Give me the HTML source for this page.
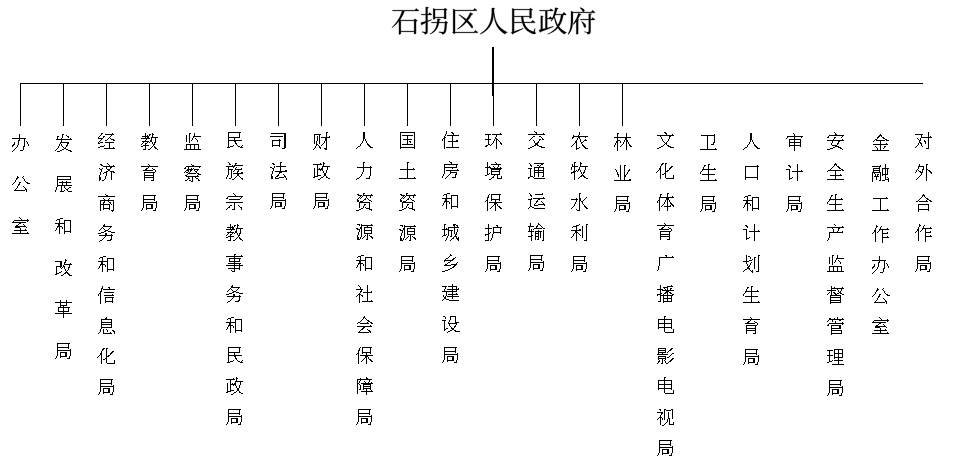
<!DOCTYPE html>
<html><head><meta charset="utf-8"><style>
html,body{margin:0;padding:0;background:#fff;}
body{width:966px;height:465px;overflow:hidden;font-family:"Liberation Serif",serif;}
svg{display:block;}
</style></head><body>
<svg width="966" height="465" viewBox="0 0 966 465">
<path shape-rendering="crispEdges" fill="#000" d="M492 47h2v36h-2zM20 83h903v1h-903zM20 84h1v42h-1zM63 84h1v42h-1zM106 84h1v42h-1zM149 84h1v42h-1zM192 84h1v42h-1zM235 84h1v42h-1zM278 84h1v42h-1zM321 84h1v42h-1zM364 84h1v42h-1zM407 84h1v42h-1zM450 84h1v42h-1zM492 84h2v12h-2zM536 84h1v42h-1zM579 84h1v42h-1zM622 84h1v42h-1zM493 96h1v30h-1zM446 131h1v3h-1zM534 131h1v1h-1zM228 132h13v1h-13zM326 132h2v1h-2zM363 132h2v7h-2zM400 132h15v1h-15zM451 132h2v1h-2zM535 132h2v1h-2zM579 132h1v3h-1zM664 132h2v1h-2zM834 132h1v1h-1zM928 132h1v5h-1zM101 133h2v1h-2zM112 133h1v1h-1zM145 133h1v3h-1zM152 133h1v1h-1zM189 133h2v1h-2zM194 133h1v3h-1zM228 133h1v4h-1zM239 133h1v4h-1zM271 133h15v1h-15zM326 133h1v4h-1zM400 133h1v14h-1zM414 133h1v14h-1zM452 133h2v1h-2zM500 133h1v1h-1zM536 133h1v1h-1zM543 133h1v1h-1zM617 133h2v1h-2zM626 133h1v4h-1zM665 133h2v1h-2zM750 133h2v7h-2zM793 133h1v1h-1zM835 133h1v1h-1zM19 134h1v4h-1zM62 134h2v1h-2zM101 134h1v1h-1zM105 134h9v1h-9zM149 134h2v1h-2zM152 134h2v1h-2zM189 134h1v9h-1zM284 134h2v14h-2zM314 134h7v1h-7zM445 134h1v2h-1zM453 134h1v1h-1zM485 134h6v1h-6zM492 134h10v1h-10zM528 134h17v1h-17zM617 134h1v3h-1zM666 134h1v1h-1zM672 134h1v1h-1zM714 134h1v1h-1zM794 134h1v2h-1zM835 134h2v1h-2zM880 134h1v1h-1zM915 134h8v1h-8zM62 135h1v3h-1zM66 135h1v1h-1zM100 135h1v1h-1zM111 135h1v1h-1zM147 135h1v1h-1zM149 135h1v1h-1zM152 135h1v2h-1zM186 135h1v7h-1zM314 135h1v9h-1zM319 135h1v9h-1zM402 135h11v1h-11zM447 135h12v1h-12zM488 135h1v4h-1zM496 135h1v2h-1zM573 135h1v1h-1zM578 135h1v1h-1zM657 135h17v1h-17zM701 135h14v1h-14zM829 135h15v1h-15zM879 135h3v1h-3zM921 135h1v2h-1zM57 136h2v1h-2zM67 136h2v1h-2zM99 136h1v1h-1zM103 136h2v1h-2zM110 136h1v1h-1zM142 136h7v1h-7zM193 136h8v1h-8zM270 136h13v1h-13zM317 136h1v5h-1zM329 136h1v1h-1zM407 136h1v3h-1zM444 136h1v1h-1zM452 136h1v5h-1zM533 136h2v1h-2zM539 136h2v1h-2zM573 136h15v1h-15zM660 136h1v1h-1zM669 136h2v1h-2zM707 136h1v13h-1zM714 136h1v6h-1zM787 136h16v1h-16zM828 136h1v1h-1zM842 136h1v1h-1zM878 136h2v1h-2zM881 136h1v1h-1zM930 136h1v1h-1zM57 137h1v2h-1zM68 137h1v1h-1zM98 137h1v1h-1zM103 137h1v1h-1zM109 137h1v1h-1zM145 137h1v1h-1zM147 137h2v1h-2zM151 137h7v1h-7zM193 137h1v1h-1zM228 137h12v1h-12zM321 137h9v1h-9zM444 137h2v1h-2zM495 137h1v1h-1zM532 137h1v1h-1zM541 137h1v1h-1zM572 137h2v1h-2zM578 137h2v1h-2zM585 137h1v1h-1zM614 137h17v1h-17zM661 137h1v2h-1zM669 137h1v2h-1zM787 137h1v1h-1zM794 137h1v2h-1zM801 137h1v1h-1zM827 137h2v1h-2zM834 137h2v1h-2zM841 137h1v1h-1zM877 137h2v1h-2zM882 137h2v1h-2zM921 137h11v1h-11zM12 138h14v1h-14zM61 138h1v1h-1zM70 138h1v1h-1zM98 138h5v1h-5zM108 138h1v1h-1zM110 138h1v1h-1zM141 138h9v1h-9zM151 138h1v2h-1zM155 138h1v4h-1zM192 138h1v2h-1zM195 138h1v1h-1zM228 138h1v2h-1zM234 138h1v2h-1zM325 138h2v3h-2zM443 138h2v1h-2zM495 138h2v1h-2zM531 138h1v1h-1zM542 138h1v1h-1zM572 138h1v1h-1zM577 138h1v2h-1zM579 138h1v1h-1zM617 138h1v2h-1zM625 138h2v2h-2zM786 138h1v1h-1zM834 138h1v1h-1zM877 138h1v1h-1zM883 138h2v1h-2zM917 138h1v1h-1zM920 138h1v2h-1zM928 138h1v10h-1zM19 139h1v1h-1zM24 139h1v7h-1zM56 139h16v1h-16zM101 139h1v1h-1zM107 139h1v1h-1zM111 139h3v1h-3zM146 139h1v1h-1zM196 139h1v1h-1zM279 139h1v1h-1zM363 139h1v2h-1zM365 139h1v2h-1zM403 139h9v1h-9zM442 139h1v2h-1zM444 139h1v10h-1zM485 139h6v1h-6zM494 139h1v2h-1zM496 139h2v1h-2zM530 139h1v1h-1zM539 139h2v1h-2zM542 139h2v1h-2zM580 139h1v3h-1zM585 139h1v1h-1zM662 139h1v2h-1zM668 139h1v2h-1zM789 139h12v1h-12zM833 139h1v1h-1zM842 139h1v1h-1zM875 139h2v1h-2zM885 139h2v1h-2zM918 139h1v1h-1zM18 140h2v1h-2zM61 140h1v2h-1zM100 140h1v1h-1zM105 140h2v1h-2zM113 140h2v1h-2zM145 140h1v1h-1zM150 140h2v2h-2zM191 140h1v1h-1zM197 140h1v2h-1zM228 140h14v1h-14zM272 140h9v1h-9zM407 140h1v4h-1zM456 140h2v1h-2zM488 140h1v4h-1zM496 140h1v9h-1zM498 140h1v1h-1zM529 140h1v1h-1zM533 140h1v1h-1zM539 140h1v1h-1zM576 140h1v1h-1zM584 140h3v1h-3zM617 140h3v1h-3zM624 140h1v2h-1zM626 140h2v2h-2zM750 140h1v2h-1zM752 140h1v2h-1zM789 140h1v2h-1zM794 140h1v2h-1zM800 140h1v2h-1zM827 140h17v1h-17zM874 140h1v1h-1zM876 140h9v1h-9zM886 140h3v1h-3zM919 140h2v1h-2zM924 140h1v1h-1zM18 141h1v4h-1zM26 141h1v1h-1zM99 141h1v1h-1zM142 141h7v1h-7zM228 141h1v6h-1zM234 141h2v1h-2zM272 141h1v4h-1zM279 141h1v4h-1zM316 141h1v3h-1zM324 141h1v2h-1zM326 141h1v7h-1zM362 141h1v2h-1zM366 141h1v2h-1zM409 141h2v1h-2zM448 141h10v1h-10zM493 141h1v2h-1zM499 141h1v1h-1zM534 141h1v2h-1zM538 141h1v1h-1zM575 141h2v2h-2zM583 141h1v1h-1zM616 141h2v2h-2zM620 141h1v2h-1zM663 141h1v1h-1zM667 141h1v1h-1zM832 141h1v2h-1zM838 141h2v1h-2zM873 141h1v1h-1zM880 141h1v3h-1zM919 141h1v1h-1zM924 141h2v1h-2zM14 142h1v2h-1zM27 142h1v2h-1zM60 142h9v1h-9zM98 142h1v1h-1zM100 142h3v1h-3zM105 142h9v1h-9zM143 142h1v1h-1zM147 142h1v1h-1zM149 142h1v1h-1zM152 142h1v2h-1zM154 142h2v1h-2zM235 142h1v1h-1zM410 142h1v1h-1zM452 142h1v5h-1zM500 142h1v1h-1zM537 142h2v1h-2zM581 142h2v1h-2zM623 142h1v2h-1zM626 142h1v8h-1zM628 142h1v2h-1zM664 142h1v1h-1zM666 142h1v1h-1zM713 142h2v1h-2zM749 142h1v2h-1zM753 142h1v2h-1zM789 142h12v1h-12zM838 142h1v1h-1zM919 142h2v1h-2zM925 142h1v2h-1zM60 143h1v1h-1zM67 143h2v1h-2zM98 143h2v1h-2zM109 143h1v5h-1zM142 143h1v1h-1zM145 143h2v1h-2zM154 143h1v1h-1zM235 143h2v1h-2zM323 143h1v1h-1zM361 143h1v1h-1zM367 143h1v1h-1zM492 143h1v1h-1zM500 143h2v1h-2zM535 143h3v2h-3zM574 143h1v1h-1zM576 143h1v5h-1zM581 143h1v1h-1zM615 143h1v2h-1zM617 143h1v8h-1zM665 143h2v1h-2zM713 143h1v1h-1zM789 143h1v2h-1zM794 143h1v2h-1zM800 143h1v2h-1zM831 143h1v2h-1zM837 143h2v1h-2zM886 143h1v1h-1zM918 143h1v2h-1zM920 143h2v1h-2zM13 144h2v1h-2zM28 144h1v2h-1zM59 144h1v2h-1zM61 144h1v2h-1zM67 144h1v1h-1zM141 144h1v1h-1zM145 144h1v1h-1zM153 144h2v1h-2zM186 144h13v1h-13zM236 144h1v1h-1zM316 144h2v1h-2zM322 144h1v1h-1zM360 144h1v2h-1zM367 144h2v1h-2zM402 144h11v1h-11zM488 144h2v1h-2zM491 144h1v1h-1zM501 144h1v1h-1zM573 144h1v1h-1zM582 144h1v1h-1zM622 144h1v1h-1zM629 144h1v1h-1zM664 144h1v1h-1zM666 144h1v1h-1zM711 144h3v1h-3zM748 144h1v1h-1zM754 144h1v1h-1zM837 144h1v1h-1zM873 144h15v1h-15zM921 144h1v2h-1zM12 145h2v1h-2zM17 145h1v2h-1zM66 145h2v1h-2zM104 145h1v1h-1zM143 145h6v1h-6zM153 145h1v1h-1zM186 145h1v4h-1zM190 145h1v4h-1zM194 145h1v4h-1zM198 145h1v4h-1zM233 145h1v1h-1zM237 145h1v1h-1zM242 145h1v1h-1zM272 145h8v1h-8zM316 145h1v1h-1zM318 145h1v1h-1zM321 145h1v1h-1zM368 145h2v1h-2zM486 145h2v1h-2zM490 145h1v1h-1zM534 145h2v1h-2zM537 145h2v1h-2zM572 145h1v1h-1zM582 145h2v1h-2zM614 145h1v2h-1zM621 145h1v1h-1zM629 145h2v1h-2zM663 145h1v1h-1zM667 145h2v1h-2zM747 145h1v2h-1zM754 145h2v1h-2zM789 145h12v1h-12zM832 145h5v1h-5zM880 145h1v5h-1zM917 145h1v1h-1zM12 146h1v1h-1zM23 146h2v1h-2zM58 146h1v2h-1zM62 146h1v1h-1zM66 146h1v1h-1zM100 146h4v1h-4zM141 146h2v1h-2zM145 146h1v3h-1zM152 146h1v1h-1zM154 146h1v1h-1zM230 146h3v1h-3zM238 146h2v1h-2zM241 146h1v1h-1zM272 146h1v1h-1zM279 146h1v1h-1zM315 146h1v2h-1zM319 146h1v1h-1zM358 146h2v1h-2zM369 146h2v1h-2zM485 146h2v1h-2zM532 146h2v1h-2zM539 146h3v1h-3zM571 146h1v1h-1zM583 146h2v1h-2zM620 146h1v1h-1zM630 146h2v1h-2zM661 146h2v1h-2zM668 146h3v1h-3zM755 146h2v1h-2zM789 146h1v1h-1zM794 146h1v5h-1zM800 146h1v1h-1zM835 146h4v1h-4zM875 146h1v1h-1zM884 146h2v1h-2zM916 146h1v1h-1zM922 146h1v1h-1zM16 147h1v1h-1zM23 147h1v3h-1zM63 147h1v1h-1zM65 147h1v1h-1zM98 147h2v1h-2zM113 147h1v1h-1zM151 147h1v1h-1zM154 147h2v1h-2zM227 147h3v1h-3zM240 147h3v1h-3zM319 147h2v1h-2zM357 147h1v1h-1zM370 147h3v1h-3zM400 147h15v1h-15zM446 147h13v1h-13zM530 147h2v1h-2zM541 147h4v1h-4zM579 147h1v1h-1zM584 147h2v1h-2zM659 147h2v1h-2zM670 147h4v1h-4zM745 147h2v1h-2zM756 147h2v1h-2zM833 147h2v1h-2zM838 147h3v1h-3zM876 147h1v1h-1zM884 147h1v1h-1zM915 147h1v1h-1zM15 148h1v1h-1zM57 148h1v1h-1zM64 148h2v1h-2zM104 148h11v1h-11zM150 148h1v1h-1zM155 148h2v1h-2zM282 148h3v1h-3zM314 148h1v1h-1zM320 148h1v1h-1zM324 148h3v1h-3zM356 148h1v1h-1zM400 148h1v1h-1zM414 148h1v1h-1zM528 148h2v1h-2zM576 148h3v1h-3zM585 148h3v1h-3zM657 148h2v1h-2zM715 148h1v1h-1zM744 148h1v1h-1zM757 148h3v1h-3zM830 148h3v1h-3zM840 148h2v1h-2zM877 148h1v2h-1zM883 148h1v1h-1zM926 148h3v1h-3zM14 149h1v1h-1zM56 149h1v1h-1zM62 149h2v1h-2zM66 149h2v1h-2zM143 149h3v1h-3zM148 149h2v1h-2zM157 149h1v1h-1zM184 149h17v1h-17zM313 149h1v1h-1zM325 149h2v1h-2zM576 149h1v1h-1zM700 149h17v1h-17zM743 149h1v1h-1zM827 149h3v1h-3zM842 149h1v1h-1zM13 150h1v1h-1zM20 150h3v1h-3zM55 150h1v1h-1zM60 150h2v1h-2zM68 150h3v1h-3zM872 150h17v1h-17zM12 151h1v1h-1zM57 151h3v1h-3zM70 151h2v1h-2zM449 161h1v1h-1zM228 162h1v1h-1zM280 162h2v1h-2zM323 162h1v1h-1zM363 162h2v1h-2zM407 162h2v1h-2zM450 162h2v1h-2zM487 162h1v5h-1zM495 162h1v1h-1zM574 162h2v1h-2zM580 162h1v1h-1zM107 163h1v1h-1zM229 163h1v1h-1zM235 163h2v1h-2zM272 163h2v1h-2zM280 163h1v3h-1zM320 163h1v1h-1zM323 163h2v1h-2zM363 163h1v4h-1zM407 163h1v6h-1zM451 163h1v1h-1zM496 163h1v1h-1zM529 163h1v1h-1zM534 163h10v1h-10zM574 163h1v3h-1zM580 163h2v1h-2zM662 163h2v1h-2zM665 163h2v1h-2zM835 163h1v1h-1zM100 164h2v1h-2zM108 164h1v1h-1zM148 164h1v1h-1zM191 164h1v1h-1zM229 164h2v1h-2zM235 164h1v1h-1zM273 164h2v1h-2zM313 164h9v1h-9zM323 164h1v2h-1zM444 164h14v1h-14zM491 164h10v1h-10zM530 164h1v1h-1zM541 164h2v1h-2zM572 164h1v2h-1zM580 164h1v2h-1zM661 164h2v1h-2zM665 164h1v7h-1zM708 164h2v1h-2zM797 164h1v7h-1zM834 164h3v1h-3zM885 164h1v4h-1zM919 164h1v2h-1zM926 164h2v1h-2zM101 165h2v1h-2zM109 165h1v1h-1zM113 165h1v1h-1zM149 165h1v1h-1zM192 165h2v1h-2zM232 165h1v1h-1zM234 165h9v1h-9zM317 165h1v4h-1zM444 165h1v2h-1zM456 165h1v2h-1zM498 165h1v2h-1zM530 165h2v1h-2zM537 165h2v1h-2zM540 165h1v1h-1zM620 165h1v15h-1zM624 165h2v1h-2zM661 165h1v1h-1zM704 165h2v1h-2zM708 165h1v4h-1zM757 165h1v1h-1zM788 165h2v1h-2zM834 165h1v1h-1zM836 165h1v1h-1zM880 165h1v1h-1zM926 165h1v4h-1zM103 166h12v1h-12zM141 166h17v1h-17zM186 166h15v1h-15zM226 166h9v1h-9zM274 166h1v2h-1zM276 166h10v1h-10zM322 166h8v1h-8zM370 166h1v1h-1zM489 166h1v1h-1zM493 166h1v1h-1zM531 166h1v1h-1zM539 166h1v1h-1zM572 166h6v1h-6zM580 166h8v1h-8zM624 166h1v9h-1zM660 166h1v2h-1zM671 166h2v1h-2zM704 166h1v1h-1zM745 166h14v1h-14zM789 166h2v1h-2zM833 166h1v1h-1zM837 166h2v1h-2zM872 166h9v1h-9zM918 166h6v1h-6zM106 167h1v2h-1zM110 167h2v1h-2zM148 167h1v1h-1zM185 167h1v1h-1zM188 167h1v2h-1zM199 167h1v1h-1zM228 167h1v2h-1zM233 167h1v1h-1zM236 167h1v1h-1zM270 167h2v1h-2zM280 167h1v4h-1zM322 167h1v1h-1zM327 167h1v3h-1zM357 167h15v1h-15zM444 167h13v1h-13zM485 167h6v1h-6zM494 167h1v1h-1zM497 167h1v1h-1zM500 167h1v1h-1zM534 167h10v1h-10zM571 167h1v3h-1zM574 167h1v4h-1zM579 167h1v2h-1zM585 167h1v3h-1zM670 167h2v1h-2zM703 167h1v2h-1zM745 167h1v10h-1zM757 167h1v10h-1zM790 167h1v1h-1zM832 167h1v1h-1zM838 167h2v1h-2zM879 167h1v1h-1zM918 167h1v2h-1zM923 167h1v2h-1zM99 168h1v1h-1zM102 168h1v1h-1zM110 168h1v1h-1zM146 168h2v1h-2zM152 168h1v1h-1zM184 168h2v1h-2zM191 168h1v1h-1zM193 168h1v1h-1zM235 168h1v1h-1zM241 168h1v1h-1zM272 168h2v1h-2zM314 168h1v8h-1zM319 168h1v1h-1zM321 168h2v1h-2zM363 168h1v4h-1zM370 168h1v8h-1zM413 168h1v1h-1zM444 168h1v6h-1zM452 168h1v1h-1zM487 168h1v6h-1zM490 168h12v1h-12zM528 168h4v1h-4zM534 168h1v2h-1zM538 168h1v2h-1zM543 168h1v2h-1zM659 168h2v2h-2zM669 168h2v1h-2zM714 168h1v1h-1zM831 168h1v1h-1zM839 168h2v1h-2zM873 168h7v1h-7zM882 168h7v1h-7zM100 169h2v1h-2zM107 169h3v1h-3zM145 169h2v1h-2zM153 169h2v1h-2zM187 169h6v1h-6zM194 169h5v1h-5zM228 169h5v1h-5zM235 169h7v1h-7zM273 169h1v2h-1zM317 169h6v1h-6zM400 169h15v1h-15zM457 169h1v1h-1zM491 169h10v1h-10zM530 169h1v7h-1zM578 169h2v1h-2zM615 169h1v1h-1zM629 169h1v1h-1zM669 169h1v1h-1zM702 169h14v1h-14zM786 169h4v1h-4zM830 169h1v1h-1zM841 169h2v1h-2zM873 169h1v1h-1zM879 169h1v1h-1zM882 169h1v5h-1zM885 169h1v5h-1zM887 169h1v5h-1zM917 169h1v1h-1zM922 169h2v1h-2zM926 169h2v1h-2zM101 170h1v2h-1zM108 170h2v1h-2zM143 170h10v1h-10zM155 170h1v2h-1zM186 170h3v1h-3zM190 170h2v1h-2zM194 170h1v1h-1zM197 170h1v1h-1zM228 170h1v5h-1zM231 170h1v8h-1zM234 170h1v1h-1zM238 170h1v1h-1zM285 170h2v1h-2zM317 170h1v5h-1zM320 170h1v1h-1zM322 170h1v1h-1zM326 170h1v3h-1zM407 170h1v8h-1zM446 170h13v1h-13zM491 170h1v1h-1zM499 170h1v1h-1zM534 170h10v1h-10zM576 170h1v1h-1zM578 170h1v1h-1zM580 170h1v2h-1zM584 170h1v2h-1zM616 170h1v2h-1zM628 170h2v1h-2zM658 170h1v1h-1zM660 170h1v9h-1zM667 170h2v1h-2zM702 170h1v1h-1zM708 170h1v4h-1zM789 170h1v8h-1zM801 170h1v1h-1zM828 170h13v1h-13zM842 170h2v1h-2zM873 170h7v1h-7zM916 170h1v2h-1zM918 170h1v1h-1zM922 170h1v2h-1zM926 170h1v11h-1zM928 170h2v1h-2zM106 171h2v1h-2zM110 171h4v1h-4zM185 171h1v1h-1zM188 171h1v1h-1zM190 171h1v1h-1zM195 171h2v1h-2zM233 171h1v1h-1zM237 171h2v1h-2zM272 171h1v3h-1zM275 171h12v1h-12zM323 171h1v2h-1zM450 171h1v1h-1zM491 171h9v1h-9zM534 171h1v1h-1zM538 171h1v1h-1zM543 171h1v1h-1zM573 171h3v1h-3zM577 171h1v1h-1zM628 171h1v1h-1zM657 171h1v1h-1zM665 171h3v1h-3zM701 171h1v1h-1zM792 171h11v1h-11zM827 171h1v1h-1zM835 171h1v4h-1zM873 171h1v1h-1zM879 171h1v1h-1zM919 171h2v1h-2zM929 171h2v1h-2zM100 172h1v3h-1zM104 172h3v1h-3zM111 172h1v8h-1zM113 172h2v1h-2zM144 172h11v1h-11zM184 172h1v1h-1zM186 172h2v1h-2zM189 172h1v1h-1zM196 172h1v1h-1zM237 172h1v1h-1zM241 172h2v1h-2zM279 172h3v1h-3zM362 172h1v2h-1zM450 172h7v1h-7zM491 172h1v2h-1zM499 172h1v2h-1zM534 172h10v1h-10zM571 172h4v1h-4zM581 172h1v2h-1zM583 172h2v1h-2zM617 172h1v2h-1zM627 172h1v2h-1zM656 172h1v1h-1zM665 172h1v1h-1zM700 172h1v2h-1zM797 172h1v9h-1zM872 172h9v1h-9zM915 172h1v1h-1zM920 172h3v1h-3zM930 172h2v1h-2zM103 173h1v1h-1zM106 173h1v3h-1zM144 173h1v2h-1zM153 173h1v2h-1zM188 173h8v1h-8zM197 173h2v1h-2zM233 173h10v1h-10zM279 173h1v1h-1zM324 173h2v3h-2zM450 173h1v1h-1zM456 173h1v1h-1zM489 173h1v1h-1zM534 173h1v4h-1zM538 173h1v4h-1zM543 173h1v3h-1zM571 173h1v1h-1zM574 173h1v7h-1zM583 173h1v1h-1zM664 173h2v1h-2zM872 173h1v9h-1zM874 173h1v1h-1zM880 173h1v7h-1zM921 173h1v2h-1zM931 173h1v1h-1zM187 174h1v1h-1zM198 174h3v1h-3zM237 174h2v2h-2zM271 174h1v2h-1zM278 174h1v1h-1zM283 174h1v1h-1zM361 174h1v2h-1zM443 174h1v2h-1zM449 174h1v1h-1zM455 174h2v1h-2zM487 174h2v1h-2zM491 174h9v1h-9zM582 174h1v1h-1zM617 174h2v1h-2zM626 174h1v1h-1zM662 174h2v1h-2zM665 174h1v4h-1zM702 174h13v1h-13zM840 174h1v1h-1zM875 174h1v2h-1zM877 174h2v1h-2zM882 174h6v1h-6zM99 175h1v2h-1zM144 175h10v1h-10zM185 175h2v1h-2zM197 175h1v1h-1zM227 175h1v2h-1zM277 175h2v1h-2zM284 175h1v1h-1zM317 175h4v1h-4zM448 175h1v1h-1zM455 175h1v2h-1zM485 175h2v1h-2zM494 175h1v1h-1zM497 175h1v3h-1zM581 175h3v1h-3zM618 175h1v2h-1zM624 175h2v2h-2zM673 175h1v3h-1zM708 175h1v5h-1zM830 175h12v1h-12zM877 175h1v1h-1zM882 175h1v1h-1zM885 175h1v4h-1zM920 175h1v1h-1zM17 176h1v1h-1zM23 176h1v1h-1zM57 176h14v1h-14zM105 176h1v3h-1zM144 176h1v1h-1zM153 176h1v1h-1zM186 176h13v1h-13zM236 176h1v1h-1zM239 176h1v1h-1zM271 176h2v3h-2zM276 176h2v1h-2zM284 176h2v1h-2zM314 176h4v1h-4zM323 176h1v1h-1zM326 176h1v1h-1zM360 176h1v1h-1zM369 176h1v2h-1zM442 176h1v2h-1zM447 176h1v1h-1zM493 176h1v1h-1zM501 176h1v2h-1zM530 176h3v1h-3zM542 176h2v1h-2zM580 176h2v1h-2zM583 176h2v1h-2zM835 176h1v3h-1zM874 176h5v1h-5zM919 176h1v1h-1zM17 177h2v1h-2zM22 177h1v1h-1zM57 177h1v2h-1zM70 177h1v2h-1zM99 177h2v3h-2zM144 177h10v1h-10zM188 177h1v1h-1zM192 177h1v4h-1zM195 177h1v1h-1zM226 177h1v2h-1zM235 177h1v1h-1zM240 177h1v1h-1zM275 177h1v1h-1zM279 177h5v1h-5zM285 177h1v1h-1zM313 177h2v1h-2zM321 177h2v1h-2zM326 177h2v1h-2zM359 177h1v1h-1zM414 177h1v1h-1zM446 177h1v1h-1zM452 177h4v1h-4zM492 177h2v1h-2zM528 177h2v1h-2zM533 177h1v1h-1zM579 177h1v1h-1zM584 177h2v1h-2zM624 177h1v3h-1zM745 177h13v1h-13zM792 177h1v1h-1zM876 177h1v3h-1zM887 177h1v1h-1zM918 177h1v1h-1zM16 178h2v1h-2zM23 178h1v1h-1zM144 178h1v3h-1zM153 178h1v2h-1zM188 178h2v1h-2zM196 178h2v1h-2zM229 178h2v1h-2zM234 178h1v1h-1zM241 178h2v1h-2zM275 178h4v1h-4zM286 178h1v2h-1zM320 178h1v1h-1zM328 178h2v1h-2zM357 178h2v1h-2zM366 178h4v1h-4zM399 178h17v1h-17zM445 178h1v1h-1zM491 178h1v1h-1zM497 178h5v1h-5zM528 178h1v1h-1zM534 178h11v1h-11zM578 178h1v1h-1zM586 178h2v1h-2zM666 178h8v1h-8zM745 178h1v2h-1zM757 178h1v2h-1zM789 178h3v1h-3zM888 178h1v1h-1zM917 178h1v1h-1zM16 179h1v1h-1zM24 179h1v2h-1zM57 179h14v1h-14zM104 179h1v1h-1zM187 179h1v1h-1zM198 179h1v1h-1zM232 179h2v1h-2zM242 179h1v1h-1zM318 179h2v1h-2zM356 179h1v1h-1zM489 179h2v1h-2zM629 179h2v1h-2zM715 179h1v1h-1zM789 179h1v1h-1zM827 179h17v1h-17zM885 179h4v1h-4zM916 179h1v1h-1zM15 180h1v2h-1zM57 180h1v5h-1zM99 180h1v1h-1zM102 180h2v1h-2zM151 180h3v1h-3zM185 180h2v1h-2zM189 180h2v1h-2zM198 180h2v1h-2zM614 180h17v1h-17zM700 180h17v1h-17zM879 180h2v1h-2zM882 180h3v1h-3zM888 180h1v2h-1zM25 181h1v1h-1zM62 181h1v1h-1zM66 181h1v1h-1zM191 181h2v1h-2zM14 182h1v1h-1zM19 182h2v1h-2zM26 182h2v1h-2zM59 182h12v1h-12zM13 183h1v1h-1zM19 183h1v1h-1zM27 183h3v1h-3zM62 183h1v2h-1zM66 183h1v2h-1zM12 184h1v1h-1zM18 184h2v1h-2zM18 185h1v1h-1zM57 185h15v1h-15zM17 186h1v2h-1zM23 186h1v1h-1zM57 186h1v1h-1zM61 186h1v5h-1zM64 186h1v2h-1zM24 187h1v1h-1zM56 187h1v3h-1zM69 187h2v1h-2zM16 188h1v1h-1zM25 188h1v1h-1zM65 188h1v1h-1zM68 188h1v1h-1zM15 189h1v1h-1zM25 189h2v1h-2zM66 189h2v1h-2zM14 190h11v1h-11zM26 190h1v2h-1zM55 190h1v2h-1zM64 190h1v1h-1zM67 190h1v1h-1zM60 191h4v1h-4zM68 191h4v1h-4zM233 193h1v1h-1zM272 193h13v1h-13zM315 193h13v1h-13zM363 193h2v1h-2zM406 193h2v1h-2zM447 193h3v1h-3zM529 193h1v1h-1zM542 193h1v1h-1zM579 193h2v1h-2zM667 193h2v1h-2zM105 194h1v1h-1zM234 194h1v1h-1zM272 194h1v3h-1zM283 194h1v3h-1zM315 194h1v3h-1zM326 194h1v3h-1zM357 194h2v1h-2zM363 194h1v1h-1zM371 194h1v1h-1zM400 194h2v1h-2zM406 194h1v1h-1zM414 194h1v1h-1zM444 194h3v1h-3zM489 194h1v1h-1zM491 194h10v1h-10zM530 194h1v1h-1zM535 194h8v1h-8zM579 194h1v4h-1zM660 194h2v1h-2zM667 194h1v3h-1zM835 194h2v1h-2zM923 194h1v1h-1zM106 195h2v1h-2zM143 195h13v1h-13zM186 195h13v1h-13zM235 195h1v1h-1zM358 195h4v1h-4zM363 195h10v1h-10zM401 195h4v1h-4zM406 195h10v1h-10zM443 195h1v1h-1zM446 195h1v3h-1zM451 195h7v1h-7zM488 195h1v2h-1zM491 195h1v4h-1zM499 195h1v4h-1zM530 195h2v1h-2zM660 195h1v2h-1zM748 195h3v1h-3zM831 195h2v1h-2zM835 195h1v4h-1zM922 195h3v1h-3zM98 196h17v1h-17zM143 196h1v3h-1zM154 196h1v3h-1zM186 196h1v3h-1zM197 196h1v3h-1zM228 196h15v1h-15zM360 196h1v1h-1zM362 196h1v1h-1zM366 196h1v2h-1zM370 196h1v2h-1zM403 196h1v1h-1zM405 196h1v1h-1zM409 196h1v2h-1zM413 196h1v2h-1zM451 196h1v2h-1zM457 196h1v10h-1zM531 196h1v1h-1zM616 196h13v1h-13zM672 196h1v1h-1zM702 196h13v1h-13zM745 196h3v1h-3zM788 196h13v1h-13zM831 196h1v1h-1zM922 196h1v1h-1zM924 196h1v1h-1zM227 197h1v1h-1zM241 197h1v1h-1zM272 197h12v1h-12zM315 197h12v1h-12zM359 197h1v1h-1zM361 197h1v1h-1zM402 197h1v1h-1zM404 197h1v1h-1zM487 197h2v1h-2zM543 197h1v1h-1zM586 197h1v1h-1zM616 197h1v3h-1zM627 197h1v3h-1zM659 197h15v1h-15zM702 197h1v3h-1zM713 197h1v3h-1zM744 197h1v1h-1zM747 197h1v3h-1zM752 197h7v1h-7zM788 197h1v3h-1zM799 197h1v3h-1zM830 197h1v2h-1zM886 197h1v1h-1zM921 197h1v1h-1zM925 197h1v1h-1zM103 198h1v1h-1zM109 198h1v1h-1zM226 198h2v1h-2zM240 198h1v1h-1zM272 198h1v2h-1zM283 198h1v1h-1zM315 198h1v2h-1zM326 198h1v1h-1zM358 198h1v1h-1zM360 198h1v1h-1zM365 198h1v1h-1zM367 198h1v1h-1zM401 198h1v1h-1zM403 198h1v1h-1zM408 198h1v1h-1zM410 198h1v1h-1zM442 198h10v1h-10zM487 198h1v2h-1zM531 198h1v1h-1zM533 198h12v1h-12zM576 198h1v1h-1zM579 198h2v3h-2zM585 198h1v1h-1zM659 198h1v2h-1zM666 198h3v2h-3zM752 198h1v2h-1zM758 198h1v10h-1zM841 198h1v1h-1zM873 198h15v1h-15zM920 198h1v1h-1zM926 198h2v1h-2zM104 199h1v1h-1zM108 199h1v1h-1zM143 199h12v1h-12zM186 199h12v1h-12zM229 199h11v1h-11zM285 199h1v1h-1zM328 199h1v1h-1zM357 199h1v1h-1zM364 199h2v1h-2zM368 199h1v1h-1zM400 199h1v1h-1zM407 199h2v1h-2zM411 199h1v1h-1zM445 199h2v2h-2zM451 199h1v7h-1zM491 199h9v1h-9zM528 199h4v1h-4zM538 199h2v1h-2zM571 199h7v1h-7zM584 199h1v1h-1zM829 199h14v1h-14zM880 199h1v11h-1zM919 199h1v1h-1zM927 199h2v1h-2zM100 200h14v1h-14zM143 200h1v2h-1zM154 200h1v1h-1zM186 200h1v2h-1zM197 200h1v1h-1zM272 200h14v1h-14zM315 200h14v1h-14zM357 200h2v2h-2zM363 200h1v1h-1zM369 200h2v1h-2zM400 200h2v2h-2zM406 200h1v1h-1zM412 200h2v1h-2zM486 200h2v1h-2zM491 200h1v1h-1zM495 200h1v2h-1zM499 200h1v1h-1zM530 200h1v6h-1zM537 200h1v1h-1zM576 200h1v2h-1zM583 200h1v1h-1zM616 200h12v1h-12zM658 200h2v1h-2zM665 200h1v2h-1zM667 200h1v6h-1zM669 200h1v2h-1zM702 200h12v1h-12zM743 200h10v1h-10zM788 200h12v1h-12zM829 200h1v1h-1zM835 200h1v4h-1zM918 200h1v1h-1zM926 200h1v1h-1zM929 200h2v1h-2zM100 201h1v3h-1zM104 201h1v1h-1zM108 201h1v1h-1zM113 201h1v9h-1zM156 201h1v1h-1zM199 201h1v1h-1zM272 201h1v5h-1zM285 201h1v5h-1zM315 201h1v5h-1zM328 201h1v5h-1zM360 201h3v1h-3zM371 201h1v1h-1zM403 201h3v1h-3zM414 201h1v1h-1zM444 201h5v1h-5zM485 201h1v1h-1zM487 201h1v10h-1zM536 201h2v1h-2zM541 201h1v1h-1zM579 201h1v9h-1zM581 201h2v1h-2zM616 201h1v2h-1zM627 201h1v1h-1zM657 201h1v2h-1zM659 201h1v10h-1zM702 201h1v2h-1zM713 201h1v1h-1zM746 201h2v2h-2zM752 201h1v7h-1zM788 201h1v2h-1zM799 201h1v1h-1zM828 201h1v1h-1zM916 201h2v1h-2zM919 201h9v1h-9zM930 201h2v1h-2zM103 202h2v1h-2zM109 202h2v1h-2zM143 202h14v1h-14zM186 202h14v1h-14zM226 202h17v1h-17zM275 202h7v1h-7zM318 202h7v1h-7zM359 202h11v1h-11zM402 202h11v1h-11zM444 202h1v1h-1zM446 202h1v7h-1zM449 202h1v2h-1zM489 202h13v1h-13zM536 202h1v1h-1zM542 202h1v1h-1zM575 202h1v2h-1zM582 202h1v2h-1zM629 202h1v1h-1zM664 202h1v2h-1zM670 202h1v1h-1zM715 202h1v1h-1zM801 202h1v1h-1zM827 202h1v2h-1zM103 203h1v1h-1zM110 203h1v1h-1zM143 203h1v5h-1zM156 203h1v5h-1zM186 203h1v5h-1zM199 203h1v5h-1zM234 203h1v6h-1zM275 203h1v3h-1zM280 203h2v3h-2zM318 203h1v3h-1zM323 203h2v3h-2zM359 203h1v5h-1zM369 203h1v5h-1zM402 203h1v5h-1zM412 203h1v5h-1zM443 203h1v2h-1zM494 203h3v1h-3zM535 203h1v1h-1zM543 203h1v1h-1zM616 203h14v1h-14zM670 203h2v1h-2zM702 203h14v1h-14zM745 203h5v1h-5zM788 203h14v1h-14zM100 204h10v1h-10zM111 204h1v1h-1zM146 204h7v1h-7zM189 204h7v1h-7zM364 204h2v1h-2zM407 204h2v1h-2zM494 204h2v1h-2zM497 204h1v2h-1zM534 204h1v1h-1zM538 204h7v1h-7zM574 204h1v2h-1zM583 204h1v1h-1zM616 204h1v5h-1zM629 204h1v5h-1zM663 204h1v1h-1zM671 204h2v1h-2zM702 204h1v5h-1zM715 204h1v5h-1zM745 204h1v1h-1zM747 204h1v7h-1zM750 204h1v2h-1zM788 204h1v5h-1zM801 204h1v5h-1zM829 204h13v1h-13zM918 204h11v1h-11zM100 205h1v6h-1zM103 205h1v3h-1zM109 205h1v3h-1zM146 205h1v3h-1zM151 205h2v3h-2zM189 205h1v3h-1zM194 205h2v3h-2zM230 205h2v1h-2zM238 205h1v1h-1zM364 205h1v1h-1zM407 205h1v1h-1zM442 205h1v1h-1zM493 205h1v1h-1zM495 205h1v6h-1zM534 205h4v1h-4zM544 205h1v1h-1zM584 205h1v1h-1zM619 205h7v1h-7zM662 205h1v1h-1zM670 205h1v1h-1zM672 205h2v1h-2zM705 205h7v1h-7zM744 205h1v2h-1zM791 205h7v1h-7zM835 205h1v5h-1zM918 205h1v4h-1zM928 205h1v4h-1zM229 206h1v1h-1zM239 206h1v1h-1zM271 206h1v2h-1zM275 206h7v1h-7zM284 206h1v2h-1zM314 206h1v2h-1zM318 206h7v1h-7zM327 206h1v2h-1zM363 206h1v2h-1zM406 206h1v2h-1zM451 206h7v1h-7zM492 206h1v1h-1zM498 206h2v1h-2zM530 206h2v1h-2zM573 206h1v1h-1zM584 206h2v1h-2zM619 206h1v3h-1zM624 206h2v3h-2zM661 206h1v1h-1zM664 206h7v1h-7zM673 206h1v1h-1zM705 206h1v3h-1zM710 206h2v3h-2zM791 206h1v3h-1zM796 206h2v3h-2zM228 207h2v1h-2zM240 207h2v1h-2zM275 207h1v1h-1zM318 207h1v1h-1zM365 207h1v1h-1zM408 207h1v1h-1zM451 207h1v2h-1zM457 207h1v1h-1zM491 207h1v1h-1zM499 207h2v1h-2zM529 207h1v1h-1zM532 207h2v1h-2zM572 207h1v1h-1zM585 207h2v1h-2zM667 207h1v4h-1zM743 207h1v1h-1zM103 208h7v1h-7zM142 208h1v2h-1zM146 208h7v1h-7zM155 208h1v2h-1zM185 208h1v2h-1zM189 208h7v1h-7zM198 208h1v2h-1zM227 208h1v1h-1zM241 208h1v2h-1zM270 208h1v1h-1zM282 208h3v1h-3zM313 208h1v1h-1zM325 208h3v1h-3zM361 208h2v1h-2zM366 208h4v1h-4zM404 208h2v1h-2zM409 208h4v1h-4zM490 208h1v1h-1zM500 208h2v1h-2zM528 208h1v1h-1zM534 208h11v1h-11zM571 208h1v1h-1zM586 208h2v1h-2zM752 208h7v1h-7zM103 209h1v1h-1zM109 209h1v1h-1zM146 209h1v1h-1zM189 209h1v1h-1zM226 209h1v1h-1zM232 209h3v1h-3zM359 209h2v1h-2zM369 209h3v1h-3zM402 209h2v1h-2zM412 209h3v1h-3zM576 209h1v1h-1zM615 209h1v2h-1zM619 209h7v1h-7zM628 209h1v2h-1zM701 209h1v2h-1zM705 209h7v1h-7zM714 209h1v2h-1zM752 209h1v2h-1zM758 209h1v1h-1zM787 209h1v2h-1zM791 209h7v1h-7zM800 209h1v2h-1zM842 209h1v1h-1zM887 209h1v1h-1zM918 209h11v1h-11zM111 210h3v1h-3zM141 210h1v1h-1zM153 210h3v1h-3zM184 210h1v1h-1zM196 210h3v1h-3zM356 210h3v1h-3zM371 210h1v1h-1zM399 210h3v1h-3zM414 210h1v1h-1zM577 210h3v1h-3zM619 210h1v1h-1zM705 210h1v1h-1zM791 210h1v1h-1zM827 210h17v1h-17zM872 210h17v1h-17zM918 210h1v2h-1zM928 210h1v1h-1zM112 211h1v1h-1zM614 211h1v1h-1zM626 211h3v1h-3zM700 211h1v1h-1zM712 211h3v1h-3zM786 211h1v1h-1zM798 211h3v1h-3zM19 217h1v1h-1zM20 218h1v1h-1zM60 218h3v1h-3zM21 219h1v1h-1zM27 219h1v1h-1zM57 219h3v1h-3zM14 220h15v1h-15zM56 220h1v1h-1zM59 220h1v3h-1zM64 220h7v1h-7zM13 221h1v1h-1zM27 221h1v1h-1zM64 221h1v2h-1zM70 221h1v10h-1zM12 222h14v1h-14zM19 223h2v1h-2zM55 223h10v1h-10zM530 223h1v3h-1zM538 223h1v1h-1zM664 223h1v1h-1zM18 224h1v1h-1zM23 224h1v1h-1zM58 224h2v2h-2zM64 224h1v7h-1zM104 224h1v1h-1zM230 224h1v3h-1zM237 224h1v1h-1zM357 224h3v1h-3zM361 224h1v1h-1zM371 224h1v1h-1zM444 224h2v1h-2zM453 224h3v1h-3zM488 224h1v4h-1zM538 224h2v1h-2zM579 224h1v1h-1zM586 224h2v1h-2zM665 224h1v1h-1zM754 224h1v7h-1zM834 224h1v1h-1zM919 224h1v1h-1zM16 225h2v1h-2zM24 225h1v1h-1zM103 225h2v1h-2zM234 225h2v1h-2zM237 225h2v1h-2zM359 225h1v1h-1zM361 225h12v1h-12zM400 225h3v1h-3zM404 225h1v1h-1zM414 225h1v1h-1zM444 225h1v4h-1zM453 225h2v1h-2zM456 225h2v1h-2zM496 225h2v1h-2zM537 225h1v1h-1zM540 225h1v1h-1zM576 225h3v1h-3zM586 225h1v15h-1zM657 225h17v1h-17zM745 225h2v1h-2zM835 225h1v1h-1zM876 225h1v1h-1zM919 225h2v1h-2zM924 225h1v1h-1zM15 226h11v1h-11zM57 226h5v1h-5zM103 226h9v1h-9zM232 226h1v1h-1zM234 226h1v1h-1zM237 226h1v2h-1zM361 226h1v1h-1zM367 226h1v1h-1zM402 226h1v1h-1zM404 226h12v1h-12zM454 226h1v1h-1zM457 226h1v1h-1zM497 226h1v1h-1zM528 226h6v1h-6zM536 226h2v1h-2zM541 226h1v1h-1zM573 226h4v1h-4zM582 226h1v12h-1zM664 226h1v1h-1zM746 226h2v1h-2zM842 226h1v1h-1zM876 226h2v1h-2zM881 226h1v1h-1zM919 226h1v1h-1zM923 226h1v2h-1zM15 227h5v1h-5zM26 227h1v1h-1zM57 227h1v1h-1zM59 227h1v7h-1zM62 227h1v2h-1zM102 227h1v1h-1zM110 227h1v1h-1zM227 227h7v1h-7zM360 227h2v2h-2zM364 227h8v1h-8zM404 227h1v1h-1zM410 227h1v1h-1zM448 227h11v1h-11zM493 227h9v1h-9zM529 227h1v4h-1zM536 227h1v1h-1zM542 227h1v1h-1zM572 227h1v1h-1zM576 227h1v3h-1zM662 227h2v1h-2zM668 227h1v1h-1zM747 227h1v1h-1zM827 227h17v1h-17zM876 227h1v1h-1zM880 227h1v2h-1zM918 227h1v2h-1zM930 227h1v1h-1zM20 228h1v2h-1zM56 228h1v2h-1zM101 228h1v1h-1zM103 228h1v1h-1zM109 228h1v1h-1zM230 228h1v1h-1zM232 228h2v1h-2zM236 228h7v1h-7zM356 228h2v1h-2zM364 228h1v2h-1zM371 228h1v2h-1zM403 228h2v2h-2zM407 228h8v1h-8zM446 228h1v1h-1zM448 228h1v1h-1zM454 228h1v6h-1zM485 228h7v1h-7zM493 228h1v4h-1zM500 228h1v4h-1zM534 228h8v1h-8zM543 228h2v1h-2zM661 228h2v1h-2zM669 228h2v1h-2zM832 228h1v1h-1zM838 228h2v1h-2zM875 228h1v2h-1zM887 228h1v1h-1zM922 228h10v1h-10zM25 229h1v1h-1zM100 229h1v1h-1zM104 229h1v1h-1zM108 229h1v1h-1zM226 229h9v1h-9zM236 229h1v2h-1zM240 229h1v4h-1zM357 229h3v1h-3zM361 229h1v8h-1zM399 229h2v1h-2zM407 229h1v2h-1zM414 229h1v2h-1zM442 229h7v1h-7zM457 229h1v3h-1zM488 229h1v4h-1zM531 229h1v2h-1zM533 229h1v1h-1zM579 229h2v1h-2zM659 229h10v1h-10zM671 229h1v2h-1zM743 229h4v1h-4zM833 229h1v3h-1zM838 229h1v2h-1zM879 229h10v1h-10zM917 229h2v2h-2zM922 229h1v1h-1zM925 229h1v3h-1zM14 230h13v1h-13zM55 230h1v1h-1zM99 230h1v1h-1zM105 230h3v1h-3zM231 230h1v1h-1zM359 230h1v2h-1zM364 230h8v1h-8zM400 230h3v1h-3zM404 230h1v8h-1zM444 230h1v5h-1zM448 230h5v1h-5zM538 230h1v1h-1zM543 230h1v10h-1zM571 230h10v1h-10zM746 230h1v8h-1zM758 230h1v1h-1zM874 230h2v2h-2zM879 230h1v1h-1zM882 230h1v3h-1zM921 230h1v1h-1zM20 231h1v2h-1zM64 231h7v1h-7zM104 231h2v1h-2zM108 231h3v1h-3zM230 231h1v1h-1zM235 231h2v2h-2zM364 231h1v2h-1zM371 231h1v2h-1zM402 231h1v2h-1zM407 231h8v1h-8zM448 231h1v5h-1zM451 231h1v5h-1zM528 231h6v1h-6zM535 231h7v1h-7zM575 231h2v1h-2zM660 231h11v1h-11zM749 231h11v1h-11zM837 231h1v1h-1zM842 231h1v1h-1zM878 231h1v1h-1zM916 231h1v1h-1zM918 231h1v10h-1zM920 231h1v1h-1zM930 231h1v1h-1zM27 232h1v1h-1zM64 232h1v2h-1zM70 232h1v1h-1zM101 232h3v1h-3zM111 232h4v1h-4zM227 232h7v1h-7zM358 232h1v3h-1zM407 232h1v2h-1zM414 232h1v2h-1zM456 232h1v2h-1zM490 232h1v1h-1zM493 232h8v1h-8zM531 232h1v3h-1zM535 232h1v1h-1zM538 232h1v1h-1zM540 232h1v6h-1zM575 232h3v1h-3zM660 232h1v2h-1zM669 232h1v2h-1zM754 232h1v9h-1zM829 232h14v1h-14zM873 232h1v1h-1zM875 232h1v10h-1zM877 232h1v1h-1zM887 232h1v1h-1zM915 232h1v1h-1zM925 232h6v1h-6zM12 233h17v1h-17zM98 233h3v1h-3zM105 233h2v2h-2zM228 233h1v1h-1zM232 233h1v1h-1zM234 233h1v1h-1zM237 233h1v2h-1zM239 233h2v1h-2zM364 233h8v1h-8zM401 233h1v3h-1zM488 233h2v1h-2zM493 233h1v1h-1zM500 233h1v1h-1zM535 233h4v1h-4zM574 233h1v1h-1zM576 233h1v8h-1zM578 233h1v1h-1zM829 233h1v5h-1zM872 233h1v1h-1zM882 233h6v1h-6zM925 233h1v3h-1zM111 234h1v1h-1zM227 234h1v1h-1zM230 234h2v1h-2zM239 234h1v1h-1zM367 234h1v5h-1zM407 234h8v1h-8zM446 234h1v1h-1zM455 234h2v1h-2zM485 234h4v1h-4zM492 234h1v4h-1zM535 234h1v2h-1zM538 234h1v2h-1zM573 234h1v2h-1zM579 234h1v1h-1zM660 234h10v1h-10zM882 234h1v3h-1zM99 235h14v1h-14zM226 235h1v1h-1zM230 235h1v1h-1zM238 235h2v1h-2zM357 235h1v2h-1zM365 235h1v1h-1zM369 235h1v1h-1zM410 235h1v5h-1zM443 235h3v1h-3zM455 235h1v1h-1zM485 235h1v1h-1zM488 235h1v5h-1zM531 235h2v1h-2zM580 235h1v1h-1zM660 235h1v1h-1zM669 235h1v1h-1zM930 235h1v1h-1zM105 236h1v1h-1zM111 236h1v3h-1zM228 236h6v1h-6zM238 236h1v1h-1zM364 236h1v1h-1zM370 236h2v1h-2zM400 236h1v2h-1zM408 236h1v1h-1zM412 236h1v1h-1zM442 236h1v1h-1zM447 236h1v2h-1zM450 236h2v1h-2zM454 236h3v1h-3zM528 236h4v1h-4zM535 236h4v1h-4zM572 236h1v1h-1zM660 236h10v1h-10zM887 236h1v1h-1zM925 236h7v1h-7zM104 237h1v1h-1zM226 237h2v1h-2zM230 237h1v3h-1zM237 237h1v1h-1zM239 237h1v1h-1zM357 237h2v2h-2zM360 237h1v2h-1zM363 237h1v1h-1zM371 237h2v1h-2zM407 237h1v1h-1zM413 237h2v1h-2zM453 237h1v1h-1zM456 237h1v1h-1zM458 237h1v1h-1zM531 237h1v4h-1zM535 237h1v3h-1zM538 237h1v2h-1zM571 237h1v1h-1zM660 237h1v3h-1zM669 237h1v2h-1zM749 237h1v1h-1zM882 237h7v1h-7zM925 237h1v5h-1zM103 238h1v1h-1zM236 238h1v1h-1zM239 238h2v1h-2zM362 238h1v1h-1zM372 238h1v1h-1zM400 238h2v2h-2zM403 238h1v2h-1zM406 238h1v1h-1zM414 238h2v1h-2zM446 238h1v2h-1zM452 238h2v1h-2zM456 238h3v1h-3zM491 238h1v2h-1zM746 238h3v1h-3zM828 238h1v2h-1zM882 238h1v5h-1zM102 239h1v1h-1zM110 239h2v1h-2zM235 239h1v1h-1zM240 239h2v1h-2zM357 239h3v1h-3zM366 239h2v1h-2zM405 239h1v1h-1zM415 239h1v1h-1zM451 239h1v1h-1zM457 239h2v1h-2zM537 239h2v1h-2zM667 239h3v1h-3zM746 239h1v1h-1zM100 240h2v1h-2zM107 240h4v1h-4zM228 240h3v1h-3zM233 240h2v1h-2zM242 240h1v1h-1zM400 240h3v1h-3zM409 240h2v1h-2zM445 240h1v1h-1zM450 240h1v1h-1zM458 240h1v1h-1zM485 240h4v1h-4zM490 240h1v1h-1zM542 240h2v1h-2zM584 240h3v1h-3zM827 240h1v1h-1zM99 241h1v1h-1zM234 254h2v1h-2zM450 254h1v1h-1zM234 255h1v1h-1zM241 255h1v1h-1zM361 255h3v1h-3zM450 255h2v1h-2zM530 255h13v1h-13zM665 255h2v1h-2zM746 255h1v6h-1zM758 255h2v1h-2zM832 255h2v1h-2zM837 255h1v3h-1zM103 256h3v1h-3zM226 256h17v1h-17zM358 256h3v1h-3zM401 256h13v1h-13zM449 256h1v1h-1zM487 256h13v1h-13zM530 256h1v3h-1zM541 256h1v3h-1zM573 256h13v1h-13zM666 256h1v1h-1zM672 256h1v1h-1zM748 256h2v1h-2zM758 256h1v15h-1zM832 256h1v9h-1zM879 256h1v4h-1zM917 256h13v1h-13zM100 257h3v1h-3zM234 257h1v1h-1zM357 257h1v1h-1zM360 257h1v3h-1zM365 257h7v1h-7zM401 257h1v3h-1zM412 257h1v3h-1zM448 257h1v1h-1zM455 257h1v1h-1zM487 257h1v3h-1zM498 257h1v3h-1zM573 257h1v3h-1zM584 257h1v3h-1zM659 257h15v1h-15zM750 257h1v2h-1zM754 257h2v1h-2zM829 257h1v7h-1zM917 257h1v3h-1zM928 257h1v3h-1zM99 258h1v1h-1zM102 258h1v3h-1zM107 258h7v1h-7zM229 258h12v1h-12zM365 258h1v2h-1zM371 258h1v10h-1zM446 258h2v1h-2zM453 258h2v1h-2zM659 258h1v8h-1zM754 258h1v11h-1zM836 258h8v1h-8zM65 259h1v1h-1zM107 259h1v2h-1zM113 259h1v10h-1zM229 259h1v2h-1zM234 259h1v2h-1zM239 259h1v2h-1zM445 259h1v1h-1zM452 259h2v1h-2zM530 259h12v1h-12zM752 259h1v1h-1zM836 259h1v1h-1zM65 260h2v1h-2zM356 260h10v1h-10zM401 260h12v1h-12zM444 260h9v1h-9zM487 260h12v1h-12zM530 260h1v2h-1zM541 260h1v1h-1zM573 260h12v1h-12zM749 260h3v1h-3zM835 260h1v2h-1zM838 260h1v1h-1zM872 260h14v1h-14zM917 260h12v1h-12zM55 261h7v1h-7zM65 261h1v1h-1zM98 261h10v1h-10zM229 261h11v1h-11zM359 261h2v2h-2zM365 261h1v7h-1zM401 261h1v2h-1zM412 261h1v1h-1zM444 261h1v1h-1zM450 261h1v1h-1zM487 261h1v2h-1zM498 261h1v1h-1zM543 261h1v1h-1zM573 261h1v2h-1zM584 261h1v1h-1zM743 261h6v1h-6zM839 261h1v1h-1zM879 261h1v1h-1zM884 261h1v7h-1zM917 261h1v2h-1zM928 261h1v1h-1zM60 262h2v4h-2zM64 262h2v1h-2zM101 262h2v2h-2zM107 262h1v7h-1zM234 262h1v1h-1zM414 262h1v1h-1zM448 262h2v1h-2zM457 262h1v1h-1zM500 262h1v1h-1zM530 262h14v1h-14zM586 262h1v1h-1zM746 262h1v2h-1zM751 262h1v1h-1zM834 262h1v1h-1zM840 262h1v2h-1zM878 262h2v1h-2zM930 262h1v1h-1zM64 263h1v1h-1zM70 263h1v1h-1zM228 263h13v1h-13zM358 263h5v1h-5zM401 263h14v1h-14zM447 263h1v1h-1zM456 263h1v1h-1zM487 263h14v1h-14zM530 263h1v5h-1zM543 263h1v5h-1zM573 263h14v1h-14zM750 263h1v2h-1zM878 263h1v4h-1zM886 263h1v1h-1zM917 263h14v1h-14zM64 264h8v1h-8zM100 264h5v1h-5zM234 264h1v1h-1zM239 264h1v1h-1zM358 264h1v1h-1zM360 264h1v7h-1zM363 264h1v2h-1zM401 264h1v5h-1zM414 264h1v5h-1zM445 264h2v1h-2zM451 264h6v1h-6zM487 264h1v5h-1zM500 264h1v5h-1zM533 264h7v1h-7zM573 264h1v5h-1zM586 264h1v5h-1zM747 264h1v2h-1zM874 264h1v2h-1zM887 264h1v2h-1zM917 264h1v5h-1zM930 264h1v5h-1zM63 265h1v1h-1zM69 265h1v2h-1zM100 265h1v1h-1zM102 265h1v7h-1zM105 265h1v2h-1zM226 265h17v1h-17zM357 265h1v2h-1zM404 265h7v1h-7zM444 265h7v1h-7zM454 265h2v1h-2zM490 265h7v1h-7zM533 265h1v3h-1zM538 265h2v3h-2zM576 265h7v1h-7zM749 265h1v1h-1zM920 265h7v1h-7zM56 266h6v1h-6zM63 266h2v1h-2zM99 266h1v2h-1zM234 266h1v2h-1zM239 266h1v2h-1zM404 266h1v3h-1zM409 266h2v3h-2zM453 266h2v1h-2zM490 266h1v3h-1zM495 266h2v3h-2zM576 266h1v3h-1zM581 266h2v3h-2zM658 266h1v4h-1zM748 266h2v1h-2zM829 266h13v1h-13zM873 266h2v1h-2zM888 266h1v2h-1zM920 266h1v3h-1zM925 266h2v3h-2zM56 267h1v6h-1zM60 267h1v1h-1zM62 267h1v1h-1zM64 267h1v2h-1zM68 267h2v1h-2zM356 267h1v1h-1zM452 267h2v1h-2zM747 267h2v1h-2zM829 267h1v4h-1zM833 267h1v4h-1zM837 267h1v4h-1zM841 267h1v4h-1zM872 267h2v1h-2zM877 267h1v2h-1zM61 268h1v1h-1zM68 268h1v2h-1zM98 268h1v1h-1zM228 268h12v1h-12zM365 268h7v1h-7zM450 268h2v1h-2zM529 268h1v2h-1zM533 268h7v1h-7zM542 268h1v2h-1zM747 268h3v1h-3zM872 268h1v1h-1zM883 268h2v1h-2zM65 269h1v2h-1zM107 269h7v1h-7zM234 269h1v2h-1zM239 269h1v1h-1zM365 269h1v2h-1zM371 269h1v1h-1zM400 269h1v2h-1zM404 269h7v1h-7zM413 269h1v2h-1zM448 269h2v1h-2zM486 269h1v2h-1zM490 269h7v1h-7zM499 269h1v2h-1zM533 269h1v1h-1zM572 269h1v2h-1zM576 269h7v1h-7zM585 269h1v2h-1zM745 269h2v1h-2zM749 269h1v1h-1zM876 269h1v1h-1zM883 269h1v3h-1zM916 269h1v2h-1zM920 269h7v1h-7zM929 269h1v2h-1zM67 270h1v1h-1zM107 270h1v2h-1zM113 270h1v1h-1zM231 270h1v1h-1zM404 270h1v1h-1zM445 270h3v1h-3zM490 270h1v1h-1zM528 270h1v1h-1zM540 270h3v1h-3zM576 270h1v1h-1zM657 270h1v1h-1zM744 270h1v1h-1zM750 270h1v1h-1zM752 270h1v1h-1zM875 270h1v1h-1zM920 270h1v1h-1zM61 271h1v1h-1zM66 271h1v1h-1zM232 271h3v1h-3zM399 271h1v1h-1zM411 271h3v1h-3zM442 271h3v1h-3zM485 271h1v1h-1zM497 271h3v1h-3zM571 271h1v1h-1zM583 271h3v1h-3zM743 271h1v1h-1zM751 271h2v1h-2zM756 271h3v1h-3zM827 271h17v1h-17zM874 271h1v1h-1zM915 271h1v1h-1zM927 271h3v1h-3zM59 272h2v1h-2zM65 272h3v1h-3zM752 272h1v1h-1zM873 272h1v1h-1zM880 272h3v1h-3zM56 273h3v1h-3zM64 273h2v1h-2zM67 273h2v1h-2zM872 273h1v1h-1zM55 274h2v1h-2zM63 274h1v1h-1zM68 274h2v1h-2zM61 275h2v1h-2zM69 275h3v1h-3zM452 284h1v2h-1zM232 285h1v1h-1zM358 285h1v1h-1zM367 285h1v7h-1zM660 285h1v4h-1zM671 285h1v1h-1zM102 286h1v2h-1zM231 286h2v1h-2zM359 286h1v1h-1zM442 286h5v1h-5zM448 286h9v1h-9zM667 286h6v1h-6zM751 286h2v1h-2zM831 286h1v2h-1zM108 287h2v1h-2zM231 287h9v1h-9zM360 287h1v2h-1zM445 287h1v2h-1zM452 287h1v2h-1zM456 287h1v2h-1zM663 287h5v1h-5zM747 287h2v1h-2zM751 287h1v4h-1zM834 287h1v1h-1zM842 287h1v1h-1zM101 288h2v1h-2zM109 288h1v1h-1zM230 288h1v1h-1zM238 288h1v1h-1zM458 288h1v1h-1zM664 288h1v1h-1zM667 288h1v2h-1zM670 288h2v1h-2zM747 288h1v1h-1zM831 288h13v1h-13zM877 288h1v1h-1zM883 288h1v1h-1zM101 289h1v2h-1zM103 289h12v1h-12zM229 289h1v1h-1zM231 289h1v1h-1zM237 289h1v1h-1zM356 289h7v1h-7zM444 289h1v2h-1zM447 289h12v1h-12zM657 289h6v1h-6zM665 289h1v1h-1zM670 289h1v1h-1zM746 289h1v2h-1zM831 289h1v1h-1zM837 289h1v1h-1zM841 289h1v2h-1zM877 289h2v1h-2zM882 289h1v1h-1zM228 290h1v1h-1zM232 290h1v1h-1zM236 290h1v1h-1zM361 290h1v1h-1zM452 290h1v1h-1zM456 290h1v1h-1zM660 290h1v3h-1zM662 290h12v1h-12zM757 290h1v1h-1zM827 290h9v1h-9zM838 290h1v2h-1zM876 290h2v1h-2zM883 290h1v1h-1zM100 291h2v1h-2zM227 291h1v1h-1zM233 291h3v1h-3zM360 291h2v1h-2zM371 291h1v1h-1zM442 291h15v1h-15zM666 291h3v1h-3zM745 291h14v1h-14zM831 291h1v4h-1zM840 291h1v1h-1zM876 291h1v1h-1zM884 291h1v2h-1zM100 292h1v1h-1zM104 292h10v1h-10zM232 292h2v1h-2zM236 292h3v1h-3zM360 292h1v1h-1zM363 292h9v1h-9zM446 292h1v4h-1zM452 292h1v2h-1zM665 292h3v1h-3zM669 292h2v1h-2zM745 292h1v1h-1zM751 292h1v4h-1zM829 292h1v1h-1zM833 292h2v1h-2zM839 292h2v1h-2zM875 292h1v2h-1zM99 293h2v1h-2zM229 293h3v1h-3zM239 293h4v1h-4zM359 293h1v1h-1zM367 293h1v8h-1zM456 293h1v1h-1zM660 293h2v1h-2zM664 293h2v1h-2zM667 293h1v2h-1zM670 293h2v1h-2zM744 293h1v1h-1zM828 293h1v1h-1zM834 293h2v1h-2zM837 293h2v1h-2zM840 293h2v1h-2zM885 293h1v1h-1zM98 294h1v2h-1zM100 294h1v10h-1zM112 294h1v1h-1zM226 294h3v1h-3zM233 294h2v2h-2zM358 294h3v1h-3zM448 294h10v1h-10zM657 294h4v1h-4zM663 294h1v1h-1zM672 294h2v1h-2zM743 294h1v2h-1zM827 294h1v1h-1zM835 294h2v1h-2zM842 294h2v1h-2zM874 294h1v1h-1zM879 294h2v1h-2zM886 294h2v1h-2zM104 295h10v1h-10zM239 295h1v1h-1zM357 295h1v1h-1zM359 295h1v8h-1zM361 295h2v1h-2zM443 295h1v2h-1zM452 295h1v1h-1zM657 295h1v1h-1zM660 295h13v1h-13zM830 295h11v1h-11zM873 295h1v1h-1zM879 295h1v1h-1zM887 295h3v1h-3zM227 296h14v1h-14zM356 296h1v1h-1zM362 296h1v1h-1zM445 296h1v1h-1zM447 296h12v1h-12zM660 296h1v5h-1zM663 296h1v2h-1zM667 296h1v2h-1zM671 296h1v2h-1zM745 296h13v1h-13zM830 296h1v1h-1zM840 296h1v1h-1zM872 296h1v1h-1zM878 296h2v1h-2zM105 297h9v1h-9zM233 297h1v1h-1zM239 297h1v3h-1zM444 297h2v2h-2zM452 297h1v2h-1zM751 297h1v5h-1zM830 297h11v1h-11zM878 297h1v1h-1zM105 298h1v3h-1zM112 298h1v3h-1zM232 298h1v1h-1zM663 298h9v1h-9zM830 298h1v2h-1zM840 298h1v2h-1zM877 298h1v2h-1zM883 298h1v1h-1zM231 299h1v1h-1zM443 299h1v1h-1zM446 299h3v1h-3zM663 299h1v2h-1zM667 299h1v2h-1zM671 299h1v2h-1zM884 299h1v1h-1zM60 300h1v2h-1zM66 300h1v2h-1zM230 300h1v1h-1zM238 300h2v1h-2zM371 300h1v1h-1zM442 300h1v1h-1zM449 300h10v1h-10zM830 300h11v1h-11zM876 300h1v1h-1zM885 300h1v1h-1zM105 301h8v1h-8zM228 301h2v1h-2zM235 301h4v1h-4zM362 301h11v1h-11zM658 301h3v1h-3zM663 301h9v1h-9zM758 301h1v1h-1zM830 301h1v1h-1zM840 301h1v1h-1zM875 301h1v1h-1zM885 301h2v1h-2zM55 302h17v1h-17zM105 302h1v1h-1zM112 302h1v1h-1zM227 302h1v1h-1zM663 302h1v1h-1zM743 302h17v1h-17zM830 302h11v1h-11zM874 302h11v1h-11zM886 302h1v2h-1zM60 303h1v2h-1zM66 303h1v2h-1zM830 303h1v1h-1zM60 305h7v1h-7zM60 306h1v1h-1zM63 306h1v1h-1zM58 307h12v1h-12zM58 308h1v3h-1zM63 308h1v3h-1zM68 308h1v3h-1zM58 311h11v1h-11zM63 312h1v1h-1zM55 313h17v1h-17zM63 314h1v4h-1zM364 316h1v1h-1zM443 316h2v1h-2zM450 316h6v1h-6zM664 316h2v1h-2zM106 317h1v1h-1zM231 317h3v1h-3zM363 317h2v1h-2zM445 317h1v2h-1zM450 317h1v3h-1zM455 317h1v5h-1zM664 317h1v2h-1zM750 317h1v1h-1zM837 317h1v2h-1zM879 317h1v1h-1zM105 318h2v1h-2zM228 318h3v1h-3zM363 318h1v1h-1zM365 318h1v1h-1zM751 318h1v1h-1zM829 318h2v1h-2zM834 318h1v1h-1zM842 318h1v1h-1zM880 318h1v1h-1zM101 319h11v1h-11zM227 319h1v1h-1zM230 319h1v3h-1zM235 319h7v1h-7zM362 319h1v1h-1zM366 319h1v1h-1zM658 319h14v1h-14zM743 319h17v1h-17zM829 319h15v1h-15zM881 319h1v1h-1zM887 319h1v1h-1zM101 320h1v2h-1zM111 320h1v2h-1zM235 320h1v2h-1zM241 320h1v10h-1zM361 320h1v1h-1zM367 320h2v1h-2zM442 320h4v1h-4zM449 320h1v2h-1zM658 320h1v3h-1zM664 320h1v3h-1zM671 320h1v3h-1zM750 320h1v1h-1zM828 320h1v1h-1zM832 320h1v2h-1zM839 320h2v1h-2zM874 320h15v1h-15zM360 321h1v1h-1zM368 321h2v1h-2zM444 321h1v8h-1zM748 321h2v1h-2zM754 321h1v1h-1zM827 321h1v1h-1zM835 321h1v2h-1zM873 321h1v1h-1zM887 321h1v1h-1zM101 322h11v1h-11zM226 322h10v1h-10zM358 322h2v1h-2zM367 322h1v1h-1zM370 322h2v1h-2zM448 322h1v1h-1zM455 322h4v1h-4zM747 322h2v1h-2zM755 322h2v1h-2zM842 322h1v1h-1zM872 322h14v1h-14zM101 323h1v1h-1zM111 323h1v1h-1zM229 323h2v2h-2zM235 323h1v7h-1zM357 323h1v1h-1zM360 323h9v1h-9zM371 323h2v1h-2zM448 323h9v1h-9zM658 323h14v1h-14zM745 323h10v1h-10zM757 323h1v2h-1zM829 323h15v1h-15zM879 323h2v1h-2zM101 324h11v1h-11zM449 324h1v2h-1zM456 324h1v1h-1zM658 324h1v3h-1zM664 324h1v3h-1zM671 324h1v3h-1zM828 324h1v1h-1zM842 324h1v1h-1zM878 324h1v1h-1zM883 324h1v1h-1zM101 325h1v2h-1zM111 325h1v2h-1zM228 325h5v1h-5zM370 325h1v1h-1zM455 325h1v1h-1zM746 325h11v1h-11zM827 325h2v1h-2zM831 325h10v1h-10zM876 325h2v1h-2zM884 325h1v1h-1zM228 326h1v1h-1zM230 326h1v7h-1zM233 326h1v2h-1zM357 326h15v1h-15zM450 326h1v1h-1zM454 326h2v1h-2zM746 326h1v2h-1zM755 326h1v2h-1zM831 326h1v2h-1zM839 326h2v2h-2zM875 326h11v1h-11zM101 327h11v1h-11zM227 327h1v2h-1zM363 327h2v1h-2zM451 327h1v1h-1zM454 327h1v1h-1zM658 327h14v1h-14zM875 327h5v1h-5zM886 327h1v1h-1zM101 328h1v1h-1zM362 328h2v1h-2zM446 328h2v1h-2zM451 328h3v1h-3zM658 328h1v1h-1zM664 328h1v4h-1zM671 328h1v1h-1zM746 328h10v1h-10zM831 328h10v1h-10zM880 328h1v2h-1zM100 329h1v3h-1zM103 329h1v4h-1zM106 329h1v1h-1zM226 329h1v1h-1zM361 329h2v1h-2zM367 329h1v1h-1zM444 329h2v1h-2zM452 329h2v1h-2zM673 329h1v3h-1zM746 329h1v1h-1zM755 329h1v1h-1zM831 329h1v1h-1zM885 329h1v1h-1zM107 330h1v2h-1zM112 330h2v1h-2zM235 330h7v1h-7zM360 330h1v1h-1zM368 330h2v1h-2zM444 330h1v1h-1zM450 330h2v1h-2zM454 330h2v1h-2zM746 330h10v1h-10zM831 330h11v1h-11zM874 330h13v1h-13zM113 331h2v1h-2zM235 331h1v2h-1zM241 331h1v1h-1zM359 331h1v1h-1zM369 331h2v1h-2zM448 331h2v1h-2zM455 331h5v1h-5zM746 331h1v3h-1zM755 331h1v2h-1zM831 331h1v2h-1zM841 331h1v2h-1zM880 331h1v2h-1zM99 332h1v1h-1zM110 332h1v1h-1zM114 332h1v2h-1zM358 332h11v1h-11zM370 332h1v1h-1zM447 332h1v1h-1zM665 332h9v1h-9zM887 332h1v1h-1zM98 333h1v1h-1zM103 333h9v1h-9zM753 333h3v1h-3zM831 333h11v1h-11zM872 333h17v1h-17zM831 334h1v1h-1zM57 343h13v1h-13zM57 344h1v3h-1zM68 344h1v3h-1zM57 347h12v1h-12zM228 347h13v1h-13zM360 347h1v1h-1zM362 347h10v1h-10zM444 347h13v1h-13zM57 348h1v2h-1zM68 348h1v1h-1zM103 348h2v1h-2zM106 348h2v1h-2zM228 348h1v4h-1zM239 348h1v4h-1zM359 348h1v2h-1zM362 348h1v4h-1zM370 348h1v4h-1zM444 348h1v3h-1zM455 348h1v3h-1zM658 348h8v1h-8zM671 348h2v1h-2zM70 349h1v1h-1zM102 349h2v1h-2zM106 349h1v7h-1zM658 349h1v1h-1zM665 349h1v1h-1zM670 349h2v1h-2zM745 349h13v1h-13zM834 349h9v1h-9zM57 350h14v1h-14zM102 350h1v1h-1zM358 350h2v1h-2zM658 350h8v1h-8zM669 350h2v1h-2zM745 350h1v3h-1zM756 350h1v3h-1zM827 350h6v1h-6zM834 350h1v3h-1zM838 350h1v3h-1zM842 350h1v3h-1zM57 351h1v5h-1zM70 351h1v5h-1zM101 351h1v2h-1zM112 351h2v1h-2zM358 351h1v2h-1zM444 351h12v1h-12zM658 351h1v1h-1zM665 351h1v1h-1zM668 351h1v1h-1zM829 351h1v4h-1zM60 352h7v1h-7zM111 352h2v1h-2zM228 352h12v1h-12zM362 352h9v1h-9zM444 352h1v2h-1zM455 352h1v1h-1zM658 352h8v1h-8zM667 352h1v1h-1zM60 353h1v3h-1zM65 353h2v3h-2zM100 353h2v2h-2zM110 353h2v1h-2zM228 353h1v2h-1zM234 353h1v2h-1zM357 353h2v1h-2zM362 353h1v1h-1zM366 353h1v2h-1zM370 353h1v1h-1zM457 353h1v1h-1zM658 353h1v1h-1zM662 353h1v1h-1zM672 353h2v1h-2zM745 353h12v1h-12zM834 353h9v1h-9zM110 354h1v1h-1zM356 354h1v1h-1zM358 354h1v10h-1zM444 354h14v1h-14zM657 354h11v1h-11zM671 354h1v1h-1zM745 354h1v2h-1zM756 354h1v1h-1zM834 354h1v3h-1zM838 354h1v3h-1zM842 354h1v3h-1zM99 355h1v1h-1zM101 355h1v9h-1zM108 355h2v1h-2zM228 355h14v1h-14zM360 355h13v1h-13zM444 355h1v5h-1zM457 355h1v5h-1zM670 355h1v1h-1zM758 355h1v1h-1zM827 355h6v1h-6zM56 356h1v2h-1zM60 356h7v1h-7zM69 356h1v2h-1zM98 356h1v1h-1zM106 356h3v1h-3zM228 356h1v6h-1zM234 356h2v1h-2zM365 356h3v1h-3zM447 356h7v1h-7zM658 356h8v1h-8zM669 356h1v1h-1zM745 356h14v1h-14zM829 356h1v5h-1zM60 357h1v1h-1zM97 357h1v1h-1zM106 357h1v1h-1zM235 357h1v1h-1zM365 357h2v1h-2zM368 357h1v2h-1zM447 357h1v3h-1zM452 357h2v3h-2zM658 357h1v1h-1zM665 357h1v1h-1zM667 357h2v1h-2zM745 357h1v5h-1zM758 357h1v5h-1zM834 357h9v1h-9zM55 358h1v1h-1zM67 358h3v1h-3zM105 358h2v1h-2zM235 358h2v1h-2zM364 358h1v1h-1zM366 358h1v6h-1zM658 358h8v1h-8zM672 358h2v1h-2zM748 358h7v1h-7zM834 358h1v1h-1zM838 358h1v2h-1zM103 359h2v1h-2zM106 359h1v4h-1zM236 359h1v1h-1zM363 359h1v1h-1zM369 359h2v1h-2zM658 359h1v1h-1zM662 359h1v4h-1zM665 359h1v1h-1zM671 359h2v1h-2zM748 359h1v3h-1zM753 359h2v3h-2zM114 360h1v3h-1zM233 360h1v1h-1zM237 360h1v1h-1zM242 360h1v1h-1zM362 360h1v1h-1zM370 360h2v1h-2zM443 360h1v2h-1zM447 360h7v1h-7zM456 360h1v2h-1zM659 360h1v1h-1zM664 360h1v1h-1zM670 360h2v1h-2zM832 360h1v1h-1zM834 360h9v1h-9zM230 361h3v1h-3zM238 361h2v1h-2zM241 361h1v1h-1zM361 361h1v1h-1zM371 361h2v1h-2zM447 361h1v1h-1zM658 361h2v1h-2zM665 361h1v2h-1zM669 361h2v1h-2zM829 361h3v1h-3zM838 361h1v3h-1zM227 362h3v1h-3zM240 362h3v1h-3zM442 362h1v1h-1zM454 362h3v1h-3zM658 362h1v1h-1zM668 362h1v1h-1zM744 362h1v2h-1zM748 362h7v1h-7zM757 362h1v2h-1zM827 362h2v1h-2zM107 363h8v1h-8zM657 363h1v1h-1zM661 363h2v1h-2zM666 363h2v1h-2zM748 363h1v1h-1zM743 364h1v1h-1zM755 364h3v1h-3zM832 364h12v1h-12zM236 377h1v1h-1zM366 377h1v1h-1zM664 377h2v1h-2zM233 378h1v1h-1zM236 378h2v1h-2zM360 378h1v1h-1zM366 378h2v1h-2zM664 378h1v2h-1zM100 379h13v1h-13zM226 379h9v1h-9zM236 379h1v2h-1zM357 379h15v1h-15zM100 380h1v3h-1zM111 380h1v3h-1zM230 380h1v4h-1zM357 380h1v3h-1zM360 380h1v1h-1zM369 380h1v2h-1zM658 380h14v1h-14zM829 380h13v1h-13zM235 381h8v1h-8zM359 381h1v2h-1zM364 381h1v1h-1zM658 381h1v3h-1zM664 381h1v3h-1zM671 381h1v3h-1zM829 381h1v3h-1zM840 381h1v3h-1zM235 382h1v1h-1zM240 382h1v3h-1zM365 382h1v1h-1zM368 382h1v1h-1zM371 382h1v1h-1zM100 383h12v1h-12zM227 383h1v8h-1zM232 383h1v1h-1zM234 383h2v1h-2zM357 383h2v1h-2zM361 383h12v1h-12zM100 384h1v2h-1zM111 384h1v1h-1zM230 384h6v1h-6zM357 384h1v10h-1zM359 384h1v1h-1zM363 384h8v1h-8zM658 384h14v1h-14zM829 384h12v1h-12zM113 385h1v1h-1zM230 385h1v5h-1zM233 385h1v1h-1zM235 385h1v1h-1zM239 385h1v3h-1zM360 385h1v4h-1zM363 385h1v1h-1zM370 385h1v1h-1zM658 385h1v3h-1zM664 385h1v3h-1zM671 385h1v3h-1zM829 385h1v2h-1zM840 385h1v1h-1zM100 386h14v1h-14zM236 386h1v2h-1zM363 386h8v1h-8zM842 386h1v1h-1zM100 387h1v5h-1zM113 387h1v5h-1zM363 387h1v1h-1zM370 387h1v1h-1zM829 387h14v1h-14zM103 388h7v1h-7zM237 388h2v3h-2zM363 388h8v1h-8zM658 388h14v1h-14zM829 388h1v5h-1zM842 388h1v5h-1zM103 389h1v3h-1zM108 389h2v3h-2zM359 389h2v1h-2zM363 389h1v1h-1zM366 389h1v2h-1zM370 389h1v1h-1zM658 389h1v1h-1zM664 389h1v4h-1zM671 389h1v1h-1zM832 389h7v1h-7zM230 390h4v1h-4zM371 390h1v1h-1zM673 390h1v3h-1zM832 390h1v3h-1zM837 390h2v3h-2zM227 391h4v1h-4zM236 391h1v1h-1zM239 391h1v1h-1zM361 391h12v1h-12zM99 392h1v2h-1zM103 392h7v1h-7zM112 392h1v2h-1zM226 392h2v1h-2zM234 392h2v1h-2zM239 392h2v1h-2zM366 392h1v3h-1zM103 393h1v1h-1zM233 393h1v1h-1zM241 393h2v1h-2zM665 393h9v1h-9zM828 393h1v2h-1zM832 393h7v1h-7zM841 393h1v2h-1zM98 394h1v1h-1zM110 394h3v1h-3zM231 394h2v1h-2zM832 394h1v1h-1zM827 395h1v1h-1zM839 395h3v1h-3zM228 409h13v1h-13zM358 409h13v1h-13zM659 409h2v1h-2zM664 409h2v1h-2zM671 409h2v1h-2zM228 410h1v3h-1zM239 410h1v3h-1zM358 410h1v3h-1zM369 410h1v3h-1zM660 410h1v1h-1zM664 410h1v10h-1zM666 410h5v1h-5zM672 410h1v9h-1zM657 412h6v1h-6zM668 412h1v6h-1zM228 413h12v1h-12zM358 413h12v1h-12zM661 413h2v1h-2zM228 414h1v2h-1zM239 414h1v1h-1zM358 414h1v2h-1zM369 414h1v1h-1zM661 414h1v1h-1zM241 415h1v1h-1zM371 415h1v1h-1zM660 415h1v2h-1zM228 416h14v1h-14zM358 416h14v1h-14zM228 417h1v5h-1zM241 417h1v5h-1zM358 417h1v5h-1zM371 417h1v5h-1zM659 417h3v1h-3zM231 418h7v1h-7zM361 418h7v1h-7zM658 418h1v1h-1zM660 418h1v7h-1zM662 418h1v2h-1zM668 418h2v1h-2zM231 419h1v3h-1zM236 419h2v3h-2zM361 419h1v3h-1zM366 419h2v3h-2zM657 419h1v1h-1zM667 419h1v3h-1zM669 419h1v5h-1zM227 422h1v2h-1zM231 422h7v1h-7zM240 422h1v2h-1zM357 422h1v2h-1zM361 422h7v1h-7zM370 422h1v2h-1zM666 422h1v1h-1zM673 422h1v2h-1zM231 423h1v1h-1zM361 423h1v1h-1zM665 423h1v1h-1zM226 424h1v1h-1zM238 424h3v1h-3zM356 424h1v1h-1zM368 424h3v1h-3zM664 424h1v1h-1zM669 424h5v1h-5zM662 425h2v1h-2zM659 440h13v1h-13zM659 441h1v3h-1zM670 441h1v3h-1zM659 444h12v1h-12zM659 445h1v2h-1zM670 445h1v1h-1zM672 446h1v1h-1zM659 447h14v1h-14zM659 448h1v5h-1zM672 448h1v5h-1zM662 449h7v1h-7zM662 450h1v3h-1zM667 450h2v3h-2zM658 453h1v2h-1zM662 453h7v1h-7zM671 453h1v2h-1zM662 454h1v1h-1zM657 455h1v1h-1zM669 455h3v1h-3z"/>
<g fill="#000" stroke="#000" stroke-width="0.25"><path transform="translate(391 32)" d="M1.42 -21.81L1.69 -21L11.02 -21C9.44 -15.14 5.56 -8.88 0.84 -4.58L1.14 -4.25C3.72 -6.03 6 -8.28 7.94 -10.75L7.94 2.39L8.27 2.39C9.2 2.39 9.84 1.94 9.84 1.8L9.84 -0.17L23.12 -0.17L23.12 2.12L23.42 2.12C24.06 2.12 25.03 1.72 25.06 1.52L25.06 -10.69C25.72 -10.81 26.27 -11.08 26.47 -11.34L23.95 -13.31L22.81 -12L10.2 -12L9.2 -12.41C11.08 -15.11 12.55 -18.02 13.55 -21L27.27 -21C27.67 -21 28 -21.14 28.06 -21.44C26.97 -22.36 25.22 -23.62 25.22 -23.62L23.69 -21.81L1.42 -21.81M23.12 -11.17L23.12 -1L9.84 -1L9.84 -11.17L23.12 -11.17"/><path transform="translate(420 32)" d="M0.75 -9.36L1.69 -6.81C1.98 -6.91 2.25 -7.17 2.34 -7.58L5.73 -9.25L5.73 -0.59C5.73 -0.14 5.59 0 5.09 0C4.59 0 2.02 -0.17 2.02 -0.17L2.02 0.3C3.12 0.44 3.81 0.62 4.22 0.94C4.56 1.25 4.72 1.77 4.77 2.33C7.3 2.05 7.59 1.14 7.59 -0.42L7.59 -10.14L11.67 -12.09L11.55 -12.5L7.59 -11.3L7.59 -17L11.11 -17C11.52 -17 11.78 -17.14 11.88 -17.44C11.02 -18.28 9.64 -19.45 9.64 -19.45L8.44 -17.81L7.59 -17.81L7.59 -24C8.3 -24.08 8.58 -24.36 8.67 -24.75L5.73 -24.98L5.73 -17.81L1.19 -17.81L1.42 -17L5.73 -17L5.73 -10.77C3.55 -10.11 1.72 -9.59 0.75 -9.36M13.19 -22.81L13.19 -12.73L13.48 -12.73C14.28 -12.73 15.06 -13.14 15.06 -13.33L15.06 -14.17L24.19 -14.17L24.19 -12.92L24.48 -12.92C25.09 -12.92 26.06 -13.36 26.09 -13.55L26.09 -21.64C26.66 -21.75 27.12 -22 27.33 -22.22L24.95 -23.88L23.89 -22.81L15.19 -22.81L13.19 -23.64L13.19 -22.81M24.19 -15L15.06 -15L15.06 -22L24.19 -22L24.19 -15M17.41 -13.25C17.41 -12.09 17.36 -10.92 17.17 -9.78L11.38 -9.78L11.64 -9L17.06 -9C16.36 -4.58 14.39 -0.59 9.88 1.88L10.14 2.25C15.83 -0.11 18.09 -4.34 19 -9L24.92 -9C24.72 -3.98 24.3 -0.92 23.62 -0.3C23.39 -0.05 23.16 0 22.64 0C22.08 0 20.23 -0.14 19.14 -0.23L19.11 0.48C20.11 0.62 21.17 0.84 21.58 1.11C21.95 1.22 22.08 1.7 22.05 2.22C23.16 2.25 24.19 1.95 24.89 1.34C26 0.34 26.56 -2.91 26.77 -8.75C27.36 -8.84 27.7 -8.94 27.91 -9.16L25.72 -10.88L24.62 -9.78L19.14 -9.78C19.3 -10.56 19.38 -11.38 19.44 -12.19C20.05 -12.25 20.44 -12.5 20.52 -12.91L17.41 -13.25"/><path transform="translate(450 32)" d="M24.59 -23.64L23.31 -22L5.42 -22L3.12 -22.97L3.12 -0.11C2.81 0.06 2.48 0.3 2.31 0.48L4.53 1.94L5.3 0.83L27.27 0.83C27.67 0.83 27.94 0.69 28.03 0.38C27.03 -0.55 25.42 -1.83 25.42 -1.83L23.98 0L5.06 0L5.06 -21.17L26.23 -21.17C26.62 -21.17 26.89 -21.31 26.97 -21.62C26.09 -22.48 24.59 -23.64 24.59 -23.64M23.11 -18.03L20.2 -19.42C19.17 -17.05 17.91 -14.78 16.47 -12.69C14.56 -14.17 12.16 -15.77 9.14 -17.48L8.73 -17.16C10.72 -15.53 13.16 -13.42 15.42 -11.17C12.95 -7.86 10.14 -5.08 7.44 -3.16L7.77 -2.75C10.94 -4.5 13.98 -6.91 16.66 -9.95C18.64 -7.92 20.38 -5.86 21.34 -4.2C23.55 -2.92 24.3 -6.12 17.94 -11.53C19.38 -13.36 20.7 -15.39 21.84 -17.62C22.55 -17.52 22.95 -17.72 23.11 -18.03"/><path transform="translate(479 32)" d="M14.89 -23C15.62 -23.08 15.86 -23.36 15.92 -23.78L12.81 -24.06C12.78 -15.11 12.86 -5.55 1.19 1.73L1.61 2.23C12.05 -3.22 14.16 -10.69 14.69 -17.83C15.59 -9.03 18.23 -2.16 26.12 2.23C26.45 1.12 27.17 0.7 28.23 0.59L28.3 0.27C18.14 -4.45 15.53 -12.12 14.89 -23"/><path transform="translate(508 32)" d="M24.62 -11.81L23.19 -10L15.92 -10C15.48 -11.66 15.25 -13.42 15.16 -15.14L21.58 -15.14L21.58 -13.66L21.88 -13.66C22.55 -13.66 23.48 -14.11 23.52 -14.33L23.52 -21.62C24.09 -21.75 24.56 -21.97 24.78 -22.19L22.38 -23.88L21.28 -22.81L6.47 -22.81L4.19 -23.69L4.19 -0.98C4.19 -0.34 4.06 -0.14 3.22 0.28L4.3 2.36C4.52 2.28 4.77 2.09 4.95 1.75C9.17 -0.2 12.92 -2.14 15.22 -3.3L15.06 -3.73C11.72 -2.52 8.47 -1.36 6.12 -0.58L6.12 -9.14L14.25 -9.14C15.62 -4.34 18.56 -0.48 23.89 1.41C25.59 2.03 27.16 2.33 27.62 1.47C27.83 1.05 27.67 0.7 26.8 0.06L27.16 -3.39L26.73 -3.45C26.42 -2.44 26 -1.33 25.69 -0.72C25.48 -0.28 25.19 -0.2 24.56 -0.41C20.17 -1.83 17.53 -5.22 16.2 -9.14L26.47 -9.14C26.89 -9.14 27.2 -9.28 27.27 -9.59C26.23 -10.53 24.62 -11.81 24.62 -11.81M6.12 -21.08L6.12 -22L21.58 -22L21.58 -16L6.12 -16L6.12 -21.08M6.12 -15.14L13.28 -15.14C13.39 -13.36 13.62 -11.62 14.02 -10L6.12 -10L6.12 -15.14"/><path transform="translate(538 32)" d="M17.23 -24.36C16.67 -20.73 15.59 -16.73 14.22 -13.73C13.36 -14.53 12.19 -15.48 12.19 -15.48L10.91 -13.84L9.23 -13.84L9.23 -21L14.53 -21C14.95 -21 15.22 -21.14 15.3 -21.44C14.36 -22.3 12.81 -23.34 12.81 -23.34L11.45 -21.81L1.42 -21.81L1.66 -21L7.36 -21L7.36 -3.62L4.52 -2.92L4.52 -15.23C5.09 -15.31 5.27 -15.55 5.33 -15.84L2.78 -16.17L2.78 -2.52L0.88 -2.09L2.16 0.44C2.45 0.36 2.69 0.09 2.81 -0.28C8.41 -2.3 12.55 -4.03 15.48 -5.25L15.36 -5.72L9.23 -4.11L9.23 -13L13.75 -13L13.89 -13C13.55 -12.3 13.19 -11.59 12.81 -10.98L13.22 -10.69C14.33 -11.83 15.3 -13.19 16.19 -14.62C16.77 -11.39 17.64 -8.3 19.03 -5.58C16.94 -2.59 13.95 -0.08 9.77 1.91L10 2.31C14.36 0.7 17.56 -1.41 19.91 -4.06C21.48 -1.48 23.66 0.64 26.59 2.28C26.86 1.38 27.53 0.91 28.44 0.8L28.53 0.5C25.25 -0.91 22.81 -2.89 20.97 -5.38C23.31 -8.55 24.59 -12.47 25.3 -17L27.56 -17C27.97 -17 28.27 -17.14 28.33 -17.44C27.36 -18.39 25.8 -19.73 25.8 -19.73L24.42 -17.81L17.67 -17.81C18.33 -19.58 18.88 -21.44 19.31 -23.11C20 -23.14 20.31 -23.38 20.44 -23.72L17.23 -24.36M19.91 -6.92C18.38 -9.48 17.36 -12.44 16.66 -15.64L17.3 -17L23.08 -17C22.61 -13.22 21.64 -9.88 19.91 -6.92"/><path transform="translate(567 32)" d="M13.09 -24.39L12.81 -24.17C13.86 -23.25 15.22 -21.64 15.66 -20.39C17.73 -19.11 19.2 -23.08 13.09 -24.39M14.66 -10.58L14.3 -10.41C15.48 -8.92 16.83 -6.61 17.06 -4.8C19.03 -3.11 20.91 -7.45 14.66 -10.58M25.56 -21.78L24.16 -20L6.27 -20L4.02 -20.97L4.02 -12.75C4.02 -7.69 3.72 -2.28 0.95 2.12L1.38 2.44C5.62 -1.88 5.92 -8.06 5.92 -12.78L5.92 -19.14L27.44 -19.14C27.83 -19.14 28.11 -19.28 28.17 -19.59C27.2 -20.52 25.56 -21.78 25.56 -21.78M25.77 -14.61L24.48 -12.84L23.62 -12.84L23.62 -17.45C24.33 -17.5 24.62 -17.75 24.69 -18.19L21.75 -18.22L21.75 -12.84L13.28 -12.84L13.52 -12L21.75 -12L21.75 -0.59C21.75 -0.17 21.61 0 21.05 0C20.47 0 17.3 -0.25 17.3 -0.25L17.3 0C18.67 0.19 19.44 0.47 19.88 0.81C20.28 1.25 20.47 1.73 20.55 2.3C23.34 2.05 23.62 1.08 23.62 -0.42L23.62 -12L27.36 -12C27.77 -12 28.03 -12.14 28.09 -12.44C27.23 -13.34 25.77 -14.61 25.77 -14.61M14.25 -17.55L11.34 -18.64C10.48 -15.39 8.44 -10.75 5.97 -7.77L6.33 -7.39C7.41 -8.31 8.41 -9.45 9.28 -10.61L9.28 2.33L9.64 2.33C10.34 2.33 11.11 1.89 11.17 1.72L11.17 -11.67C11.67 -11.77 11.95 -11.94 12.08 -12.19L10.75 -12.67C11.75 -14.23 12.55 -15.77 13.09 -17.09C13.83 -17.05 14.06 -17.22 14.25 -17.55"/></g>
</svg>
</body></html>
